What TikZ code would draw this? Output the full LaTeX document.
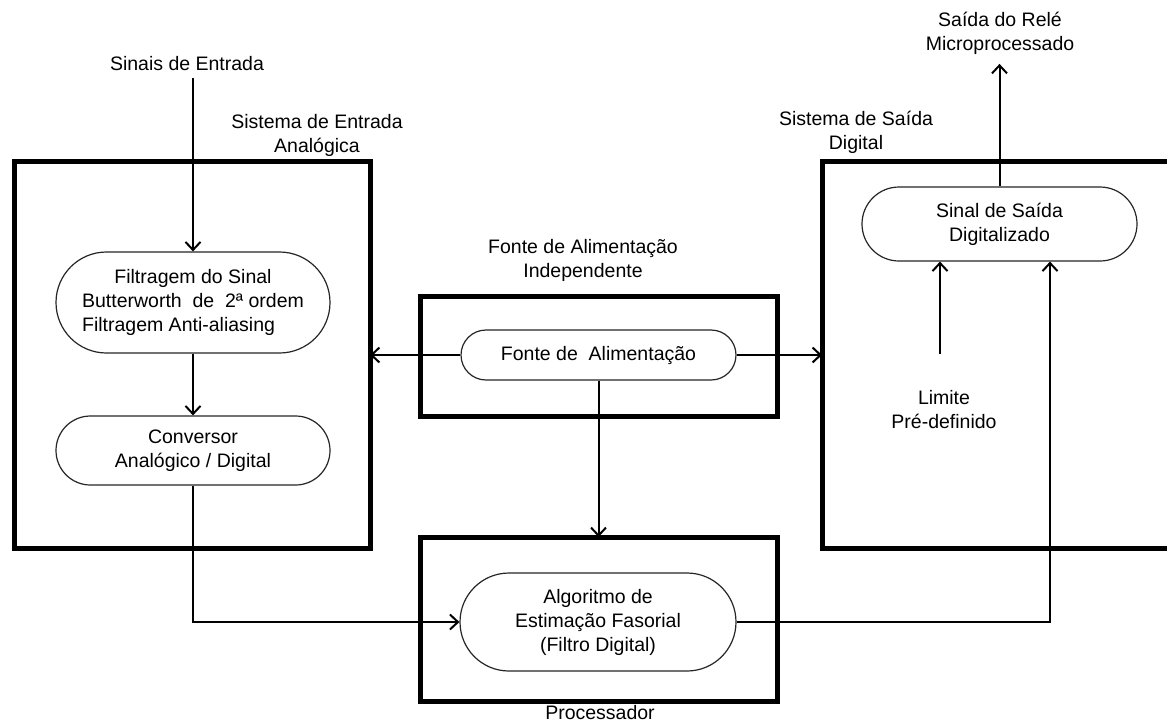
\documentclass[tikz,border=0pt]{standalone}
\usepackage{fontspec}
\setmainfont{Liberation Sans}
\usetikzlibrary{arrows.meta,shapes.misc}
\begin{document}
\begin{tikzpicture}[x=1pt,y=-1pt,
  txt/.style={font=\fontsize{19.5}{24}\selectfont, align=center, inner sep=1pt},
  pill/.style={rounded rectangle, draw=black!85, line width=1.2pt, inner sep=0pt,
    font=\fontsize{19.5}{24}\selectfont, align=center},
  bigbox/.style={rectangle, draw=black, line width=5pt, inner sep=0pt, outer sep=0pt},
  conn/.style={line width=2pt},
  arr/.style={conn, -{Straight Barb[length=8pt,width=15pt,line width=2pt]}}
]
\useasboundingbox (0,0) rectangle (1167,724);
\fill[white] (0,0) rectangle (1167,724);

% big boxes
\node[bigbox, minimum width=356pt, minimum height=387pt] (leftbox) at (192,354.5) {};
\node[bigbox, minimum width=357pt, minimum height=120pt] (midbox) at (598.5,356) {};
\node[bigbox, minimum width=357pt, minimum height=164pt] (procbox) at (598.5,619) {};
\node[bigbox, minimum width=360pt, minimum height=387pt] (rightbox) at (1002,354.5) {};

% labels
\node[txt] (sinais) at (187,64) {Sinais de Entrada};
\node[txt] (lblin) at (317,135.5) {Sistema de Entrada\\Analógica};
\node[txt] (lblout) at (856,132.5) {Sistema de Saída\\Digital};
\node[txt] (lblfonte) at (583,260.5) {Fonte de Alimentação\\Independente};
\node[txt] (lblproc) at (600,713) {Processador};
\node[txt] (rele) at (1000,33.5) {Saída do Relé\\Microprocessado};
\node[txt] (limite) at (944,410) {Limite\\Pré-definido};

% pill nodes
\node[pill, minimum width=274pt, minimum height=101pt] (filtro) at (193,302.5)
  {\begin{tabular}{@{}l@{}}\multicolumn{1}{@{}c@{}}{Filtragem do Sinal}\\Butterworth~~de~~2ª ordem\\Filtragem Anti-aliasing\end{tabular}};
\node[pill, minimum width=274pt, minimum height=69pt] (conv) at (193,450.5)
  {Conversor\\Analógico / Digital};
\node[pill, minimum width=275pt, minimum height=50pt] (fonte) at (598.5,355)
  {Fonte de~~Alimentação};
\node[pill, minimum width=276pt, minimum height=98pt] (alg) at (598,622)
  {Algoritmo de\\Estimação Fasorial\\(Filtro Digital)};
\node[pill, minimum width=275pt, minimum height=74pt] (saida) at (999.5,224)
  {Sinal de Saída\\Digitalizado};

\coordinate (limin) at ([xshift=-59.5pt]saida.south);
\coordinate (algin) at ([xshift=50.5pt]saida.south);

% connectors
\draw[arr] ([yshift=-6pt]filtro.north |- sinais.south) -- (filtro.north);
\draw[arr] (filtro.south) -- (conv.north);
\draw[arr] (conv.south) |- (alg.west);
\draw[arr] (fonte.west) -- (fonte.west -| leftbox.east);
\draw[arr] (fonte.east) -- (fonte.east -| rightbox.west);
\draw[arr] (fonte.south) -- (procbox.north);
\draw[arr] (alg.east) -| (algin);
\draw[arr] ([yshift=36pt]limite.north -| limin) -- (limin);
\draw[arr] (saida.north) -- ([yshift=-8pt]saida.north |- rele.south);
\end{tikzpicture}
\end{document}
